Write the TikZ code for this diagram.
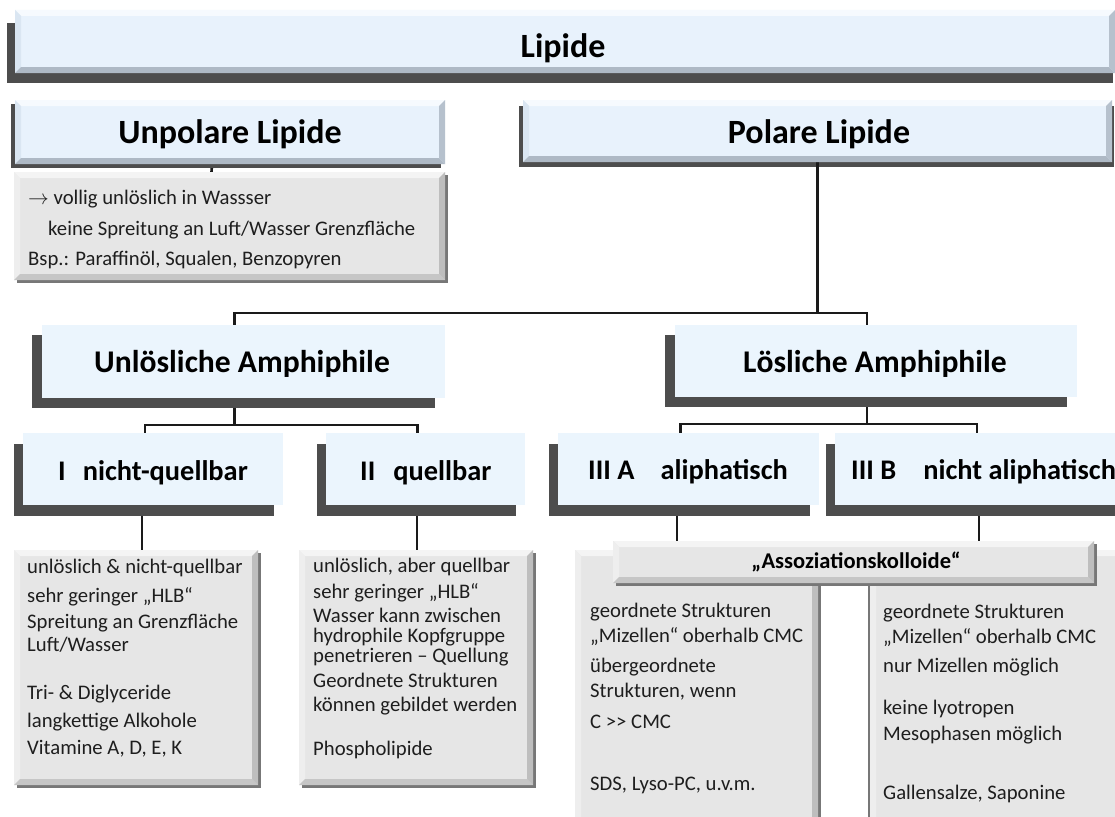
\documentclass[tikz,border=0pt]{standalone}
\usepackage{fontspec}
\setmainfont{Carlito}
\usetikzlibrary{calc,shadows}
\pgfdeclarelayer{bg}
\pgfsetlayers{bg,main}
\definecolor{blueF}{HTML}{E8F2FC}
\definecolor{blueT}{HTML}{F6FAFE}
\definecolor{blueL}{HTML}{DAE6F2}
\definecolor{blueB}{HTML}{AEB9C5}
\definecolor{blueR}{HTML}{B6C1CD}
\definecolor{flatB}{HTML}{EBF5FD}
\definecolor{shad}{HTML}{4D4D4D}
\definecolor{grayF}{HTML}{E6E6E6}
\definecolor{grayT}{HTML}{F4F4F4}
\definecolor{grayL}{HTML}{EEEEEE}
\definecolor{grayB}{HTML}{C6C6C6}
\definecolor{grayR}{HTML}{BEBEBE}
\definecolor{gshad}{HTML}{777777}
\definecolor{lineC}{HTML}{1A1A1A}
\definecolor{txt}{HTML}{1E1E1E}
\tikzset{
  bevel/.style n args={5}{fill=#1,path picture={
    \fill[#2] (path picture bounding box.north west) -- (path picture bounding box.north east) -- ([xshift=-6pt,yshift=-6pt]path picture bounding box.north east) -- ([xshift=6pt,yshift=-6pt]path picture bounding box.north west) -- cycle;
    \fill[#3] (path picture bounding box.north west) -- ([xshift=6pt,yshift=-6pt]path picture bounding box.north west) -- ([xshift=6pt,yshift=6pt]path picture bounding box.south west) -- (path picture bounding box.south west) -- cycle;
    \fill[#4] (path picture bounding box.south west) -- ([xshift=6pt,yshift=6pt]path picture bounding box.south west) -- ([xshift=-6pt,yshift=6pt]path picture bounding box.south east) -- (path picture bounding box.south east) -- cycle;
    \fill[#5] (path picture bounding box.south east) -- ([xshift=-6pt,yshift=6pt]path picture bounding box.south east) -- ([xshift=-6pt,yshift=-6pt]path picture bounding box.north east) -- (path picture bounding box.north east) -- cycle;
  }},
  boxbase/.style={rectangle,anchor=north west,inner sep=0pt,outer sep=0pt},
  bluebevel/.style={boxbase,bevel={blueF}{blueT}{blueL}{blueB}{blueR}},
  graybevel/.style={boxbase,bevel={grayF}{grayT}{grayL}{grayB}{grayR}},
  flatbox/.style={boxbase,fill=flatB},
  shd/.style 2 args={drop shadow={shadow xshift=#1,shadow yshift=#2,fill=shad,opacity=1}},
  gshd/.style 2 args={drop shadow={shadow xshift=#1,shadow yshift=#2,fill=gshad,opacity=1}},
  conn/.style={draw=lineC,line width=2.6pt},
  conn2/.style={draw=lineC,line width=2.3pt},
  body/.style={inner sep=0pt,anchor=base west,text=txt,font=\fontsize{20.7}{24}\selectfont},
  hone/.style={inner sep=0pt,anchor=base,font=\fontsize{34}{40}\selectfont\bfseries},
  htwo/.style={inner sep=0pt,anchor=base,font=\fontsize{31.6}{36}\selectfont\bfseries},
  hthree/.style={inner sep=0pt,anchor=base west,font=\fontsize{28.4}{33}\selectfont\bfseries},
  hass/.style={inner sep=0pt,anchor=base,font=\fontsize{22.5}{26}\selectfont\bfseries},
}
\newcommand\tline[4]{\node[body] (#1) at (#2,#3) {#4};}
\begin{document}
\begin{tikzpicture}[x=1pt,y=-1pt]
\clip (0,0) rectangle (1115,816);
\begin{pgfonlayer}{bg}
\fill[white] (0,0) rectangle (1115,816);
\end{pgfonlayer}

% level 0/1: bevelled blue boxes
\node[bluebevel,minimum width=1100pt,minimum height=63pt] (title) at (15,10) {};
\node[hone] (titleT) at (563,57) {Lipide};

\node[bluebevel,shd={-4pt}{-4pt},minimum width=430pt,minimum height=64pt] (ul) at (15,100) {};
\node[hone] (ulT) at (230,143) {Unpolare Lipide};

\node[bluebevel,minimum width=589pt,minimum height=62pt] (pl) at (523,100) {};
\node[hone] (plT) at (819,143) {Polare Lipide};

% text box of unpolar lipids
\node[graybevel,gshd={2.5pt}{-2.5pt},minimum width=431pt,minimum height=108pt] (ut) at (14,172) {};
\tline{ut1}{28}{204}{$\rightarrow$ vollig unlöslich in Wassser}
\tline{ut2}{48}{235}{keine Spreitung an Luft/Wasser Grenzfläche}
\tline{ut3}{28}{265}{Bsp.: Paraffinöl, Squalen, Benzopyren}

% level 2
\node[flatbox,shd={-10pt}{-10pt},minimum width=403pt,minimum height=73pt] (ua) at (42,325) {};
\node[htwo] (uaT) at (242,372) {Unlösliche Amphiphile};
\node[flatbox,shd={-10pt}{-10pt},minimum width=402pt,minimum height=72pt] (la) at (675,325) {};
\node[htwo] (laT) at (875,372) {Lösliche Amphiphile};

% level 3
\node[flatbox,shd={-9pt}{-11pt},minimum width=260pt,minimum height=72pt] (n1) at (23,433) {};
\node[hthree] (n1T) at (58,480) {I\hspace{17pt}nicht-quellbar};
\node[flatbox,shd={-9pt}{-11pt},minimum width=199pt,minimum height=72pt] (n2) at (326,433) {};
\node[hthree] (n2T) at (360,480) {II\hspace{18pt}quellbar};
\node[flatbox,shd={-9pt}{-11pt},minimum width=261pt,minimum height=72pt] (n3) at (558,433) {};
\node[hthree] (n3T) at (588,479) {III A\hspace{26pt}aliphatisch};
\node[flatbox,shd={-9pt}{-11pt},minimum width=300pt,minimum height=72pt] (n4) at (835,433) {};
\node[hthree] (n4T) at (851,479) {III B\hspace{27pt}nicht aliphatisch};

% detail boxes
\node[graybevel,gshd={2.5pt}{-2.5pt},minimum width=244pt,minimum height=235pt] (t1) at (14,550) {};
\tline{t1a}{27}{573}{unlöslich \& nicht-quellbar}
\tline{t1b}{27}{602}{sehr geringer „HLB“}
\tline{t1c}{27}{628}{Spreitung an Grenzfläche}
\tline{t1d}{27}{651}{Luft/Wasser}
\tline{t1e}{27}{699}{Tri- \& Diglyceride}
\tline{t1f}{27}{727}{langkettige Alkohole}
\tline{t1g}{27}{754}{Vitamine A, D, E, K}

\node[graybevel,gshd={2.5pt}{-2.5pt},minimum width=234pt,minimum height=235pt] (t2) at (299,550) {};
\tline{t2a}{313}{572}{unlöslich, aber quellbar}
\tline{t2b}{313}{598}{sehr geringer „HLB“}
\tline{t2c}{313}{622}{Wasser kann zwischen}
\tline{t2d}{313}{642}{hydrophile Kopfgruppe}
\tline{t2e}{313}{662}{penetrieren – Quellung}
\tline{t2f}{313}{687}{Geordnete Strukturen}
\tline{t2g}{313}{711}{können gebildet werden}
\tline{t2h}{313}{755}{Phospholipide}

\node[graybevel,gshd={2.5pt}{-2.5pt},minimum width=243pt,minimum height=280pt] (t3) at (575,550) {};
\tline{t3a}{590}{617}{geordnete Strukturen}
\tline{t3b}{590}{642}{„Mizellen“ oberhalb CMC}
\tline{t3c}{590}{672}{übergeordnete}
\tline{t3d}{590}{697}{Strukturen, wenn}
\tline{t3e}{590}{728}{C >{}> CMC}
\tline{t3f}{590}{790}{SDS, Lyso-PC, u.v.m.}

\node[graybevel,gshd={-2.5pt}{-2.5pt},minimum width=260pt,minimum height=280pt] (t4) at (870,550) {};
\tline{t4a}{883}{618}{geordnete Strukturen}
\tline{t4b}{883}{643}{„Mizellen“ oberhalb CMC}
\tline{t4c}{883}{672}{nur Mizellen möglich}
\tline{t4d}{883}{714}{keine lyotropen}
\tline{t4e}{883}{740}{Mesophasen möglich}
\tline{t4f}{883}{799}{Gallensalze, Saponine}

\node[graybevel,gshd={2.5pt}{-2.5pt},minimum width=481pt,minimum height=42pt] (as) at (613,541) {};
\node[hass] (asT) at (856,568) {„Assoziationskolloide“};

% shadows of the wide boxes and connectors (behind the boxes)
\coordinate (j1) at (0,313);
\coordinate (j2) at (0,425);
\coordinate (j3) at (0,424);
\begin{pgfonlayer}{bg}
\fill[shad] ([xshift=-8pt,yshift=-13pt]title.north west) rectangle ([xshift=-2pt,yshift=-10pt]title.south east);
\fill[shad] ([xshift=-4pt,yshift=-6pt]pl.north west) rectangle ([xshift=2pt,yshift=-5pt]pl.south east);
\draw[conn] ([xshift=-18pt]ul.south) -- ([xshift=-18pt]ut.north);
\draw[conn] (pl.south) -- (pl.south |- j1);
\draw[conn] ([xshift=-9pt]ua.north) |- ([xshift=-9pt]la.north |- j1) -- ([xshift=-9pt]la.north);
\draw[conn2] ([xshift=-9pt]ua.south) -- ([xshift=-9pt]ua.south |- j2);
\draw[conn2] ([xshift=-8pt]n1.north) |- ([xshift=-8pt]n2.north |- j2) -- ([xshift=-8pt]n2.north);
\draw[conn2] ([xshift=-9pt]la.south) -- ([xshift=-9pt]la.south |- j3);
\draw[conn2] ([xshift=-8pt]n3.north) |- ([xshift=-8pt]n4.north |- j3) -- ([xshift=-8pt]n4.north);
\draw[conn] ([xshift=-11pt]n1.south) -- ([xshift=-11pt]n1.south |- t1.north);
\draw[conn] ([xshift=-8.5pt]n2.south) -- ([xshift=-8.5pt]n2.south |- t2.north);
\draw[conn] ([xshift=-11.5pt]n3.south) -- ([xshift=-11.5pt]n3.south |- as.north);
\draw[conn] ([xshift=-6pt]n4.south) -- ([xshift=-6pt]n4.south |- as.north);
\end{pgfonlayer}
\end{tikzpicture}
\end{document}
